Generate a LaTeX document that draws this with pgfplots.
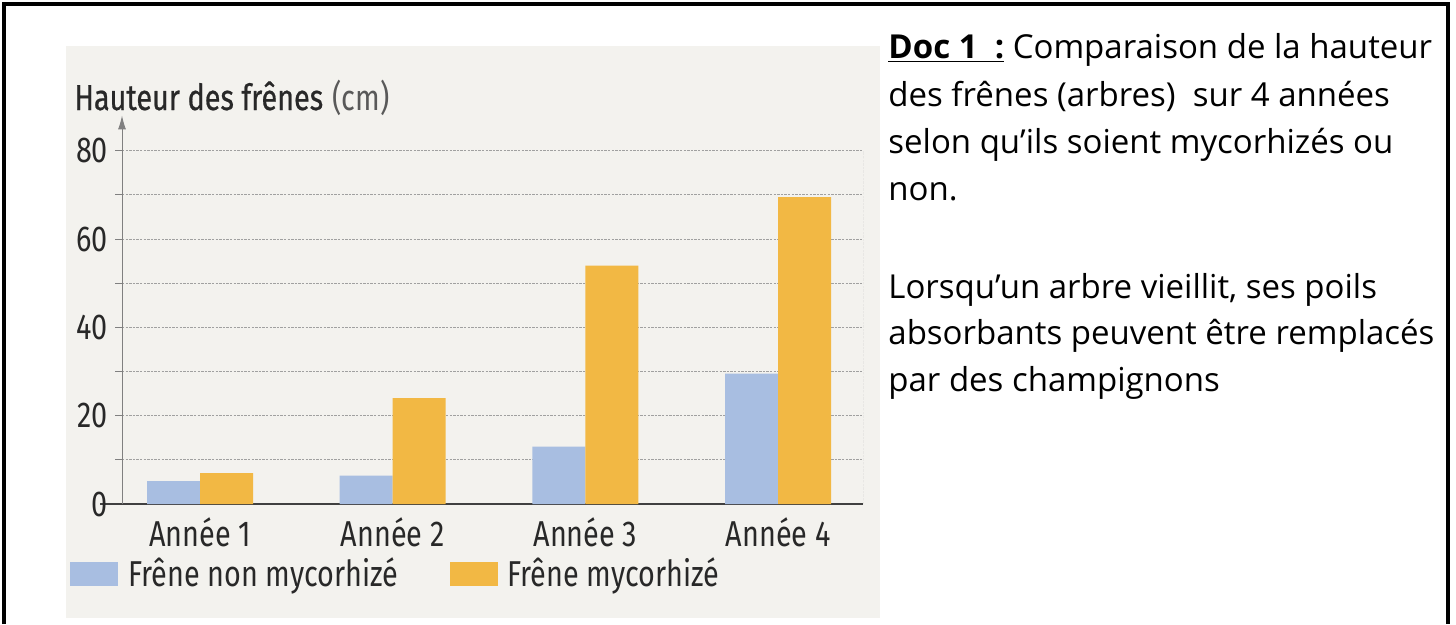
\documentclass[border=0pt]{standalone}
\usepackage{pgfplots}
\pgfplotsset{compat=1.18}
\usepackage{fontspec}
\setmainfont{Open Sans}
\newfontfamily\chartfont{Fira Sans}[FakeStretch=0.8]
\newfontfamily\chartfontb{Fira Sans}[FakeStretch=0.8, FakeBold=0.6]
\usetikzlibrary{arrows.meta}
\definecolor{barblue}{RGB}{168,190,225}
\definecolor{barorange}{RGB}{242,184,68}
\definecolor{photobg}{RGB}{243,242,238}
\definecolor{gridgray}{RGB}{160,160,160}
\definecolor{chartink}{RGB}{40,40,40}

\begin{document}
\begin{tikzpicture}[x=1bp,y=1bp]
\path[use as bounding box] (0,0) rectangle (728,312);
\fill[photobg] (33,3) rectangle (440,289);
\draw[line width=1.75bp] (2,0) -- (2,310) -- (724,310) -- (724,0);

\node[anchor=base west, inner sep=0pt, text=chartink, font=\fontsize{18bp}{21bp}\selectfont] at (37,257) {{\chartfontb Hauteur des frênes} {\chartfont\color{black!65}(cm)}};

\begin{axis}[
  at={(61bp,60bp)}, anchor=south west,
  scale only axis, width=370.5bp, height=194.3bp,
  xmin=-0.405, xmax=3.441, ymin=0, ymax=88,
  ybar=0pt, bar width=26.5bp,
  axis x line=bottom, axis y line=left,
  x axis line style={-, black!75, line width=0.9bp, shorten <=-11bp},
  y axis line style={-{Latex[length=7bp,width=4bp]}, gray, line width=0.5bp},
  xtick={0,1,2,3}, xticklabels={Année 1, Année 2, Année 3, Année 4},
  x tick style={draw=none},
  ytick={0,20,40,60,80}, minor ytick={10,30,50,70},
  tick align=outside, major tick length=3.5bp, minor tick length=3.5bp,
  y tick style={gray, line width=0.5bp},
  ymajorgrids, yminorgrids,
  major grid style={gridgray, line width=0.5bp, dash pattern=on 1.2bp off 0.6bp},
  minor grid style={gridgray, line width=0.5bp, dash pattern=on 1.2bp off 0.6bp},
  ticklabel style={text=chartink, font=\chartfont\fontsize{18bp}{21bp}\selectfont},
  /pgf/number format/assume math mode=true,
  legend columns=2,
  legend style={at={(-0.0702,-0.18)}, anchor=west, draw=none, fill=none, inner sep=0pt,
    text=chartink, font=\chartfont\fontsize{18bp}{21bp}\selectfont,
    /tikz/every odd column/.append style={column sep=3bp},
    /tikz/every even column/.append style={column sep=23.5bp}},
  legend image code/.code={\fill[#1] (0bp,-6bp) rectangle (24bp,6bp);},
]
\addplot[fill=barblue, draw=none] coordinates {(0,5.2) (1,6.4) (2,13) (3,29.5)};
\addplot[fill=barorange, draw=none] coordinates {(0,7) (1,24) (2,54) (3,69.5)};
\legend{Frêne non mycorhizé, Frêne mycorhizé}
\draw[gridgray, line width=0.5bp, dash pattern=on 1.2bp off 0.6bp] (rel axis cs:1,0) -- (axis cs:3.441,80);
\end{axis}

\begin{scope}[every node/.style={anchor=base west, inner sep=0pt, font=\fontsize{16.5bp}{20bp}\selectfont}]
\node at (444,283) {\underline{\textbf{Doc 1~~:}} Comparaison de la hauteur};
\node at (444,259) {des frênes (arbres)~~sur 4 années};
\node at (444,235.5) {selon qu’ils soient mycorhizés ou};
\node at (444,212) {non.};
\node at (444,163) {Lorsqu’un arbre vieillit, ses poils};
\node at (444,140) {absorbants peuvent être remplacés};
\node at (444,116.5) {par des champignons};
\end{scope}
\end{tikzpicture}
\end{document}
